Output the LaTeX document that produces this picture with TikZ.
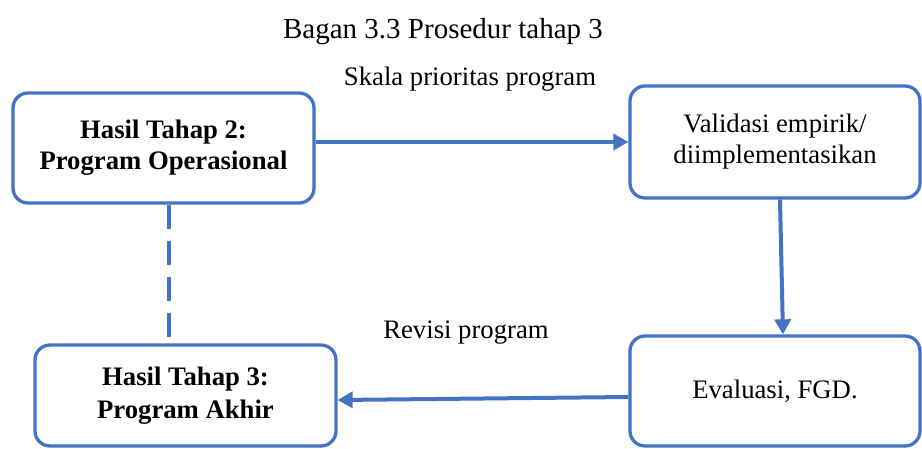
\documentclass[tikz,border=0pt]{standalone}
\usepackage{fontspec}
\setmainfont{Liberation Serif}
\usetikzlibrary{arrows.meta,backgrounds}
\pgfdeclarelayer{edgelayer}
\pgfdeclarelayer{nodelayer}
\pgfsetlayers{edgelayer,nodelayer,main}
\definecolor{wordblue}{HTML}{4472C4}
\tikzset{font=\fontsize{26.7}{31}\selectfont}
\tikzstyle{none}=[inner sep=0pt]
\tikzstyle{box}=[draw=wordblue,line width=3.3pt,rounded corners=15pt,fill=white,align=center,inner sep=0pt]
\tikzstyle{link}=[draw=wordblue,line width=4pt,-{Triangle[length=15pt,width=16pt]}]
\tikzstyle{dashlink}=[draw=wordblue,line width=4pt,dash pattern=on 24pt off 12pt]

\begin{document}
\begin{tikzpicture}[x=1pt,y=-1pt]
	\useasboundingbox (0,0) rectangle (922,448);
	\begin{pgfonlayer}{nodelayer}
		\node [style=box, minimum width=301pt, minimum height=110pt] (0) at (163.5, 148) {\textbf{Hasil Tahap 2:}\\\textbf{Program Operasional}};
		\node [style=box, minimum width=290pt, minimum height=112pt] (1) at (775, 142) {Validasi empirik/\\diimplementasikan};
		\node [style=box, minimum width=301pt, minimum height=101pt] (2) at (185.5, 395.5) {\textbf{Hasil Tahap 3:}\\[2pt]\textbf{Program Akhir}};
		\node [style=box, minimum width=290pt, minimum height=110pt] (3) at (775, 391) {Evaluasi, FGD.};
		\node [style=none, anchor=base, font=\fontsize{29}{34}\selectfont] (4) at (443, 38) {Bagan 3.3 Prosedur tahap 3};
		\node [style=none, anchor=base] (5) at (470, 85) {Skala prioritas program};
		\node [style=none, anchor=base] (6) at (466, 338) {Revisi program};
	\end{pgfonlayer}
	\begin{pgfonlayer}{edgelayer}
		\draw [style=link] (0.east |- 1.west) to (1.west);
		\draw [style=link] ([xshift=5pt]1.south) to ([xshift=8pt]3.north);
		\draw [style=link] ([yshift=-6pt]3.west) to ([yshift=-4.5pt]2.east);
		\draw [style=dashlink] ([xshift=5.5pt]0.south) to ([xshift=5.5pt]0.south |- 2.north);
	\end{pgfonlayer}
\end{tikzpicture}
\end{document}
